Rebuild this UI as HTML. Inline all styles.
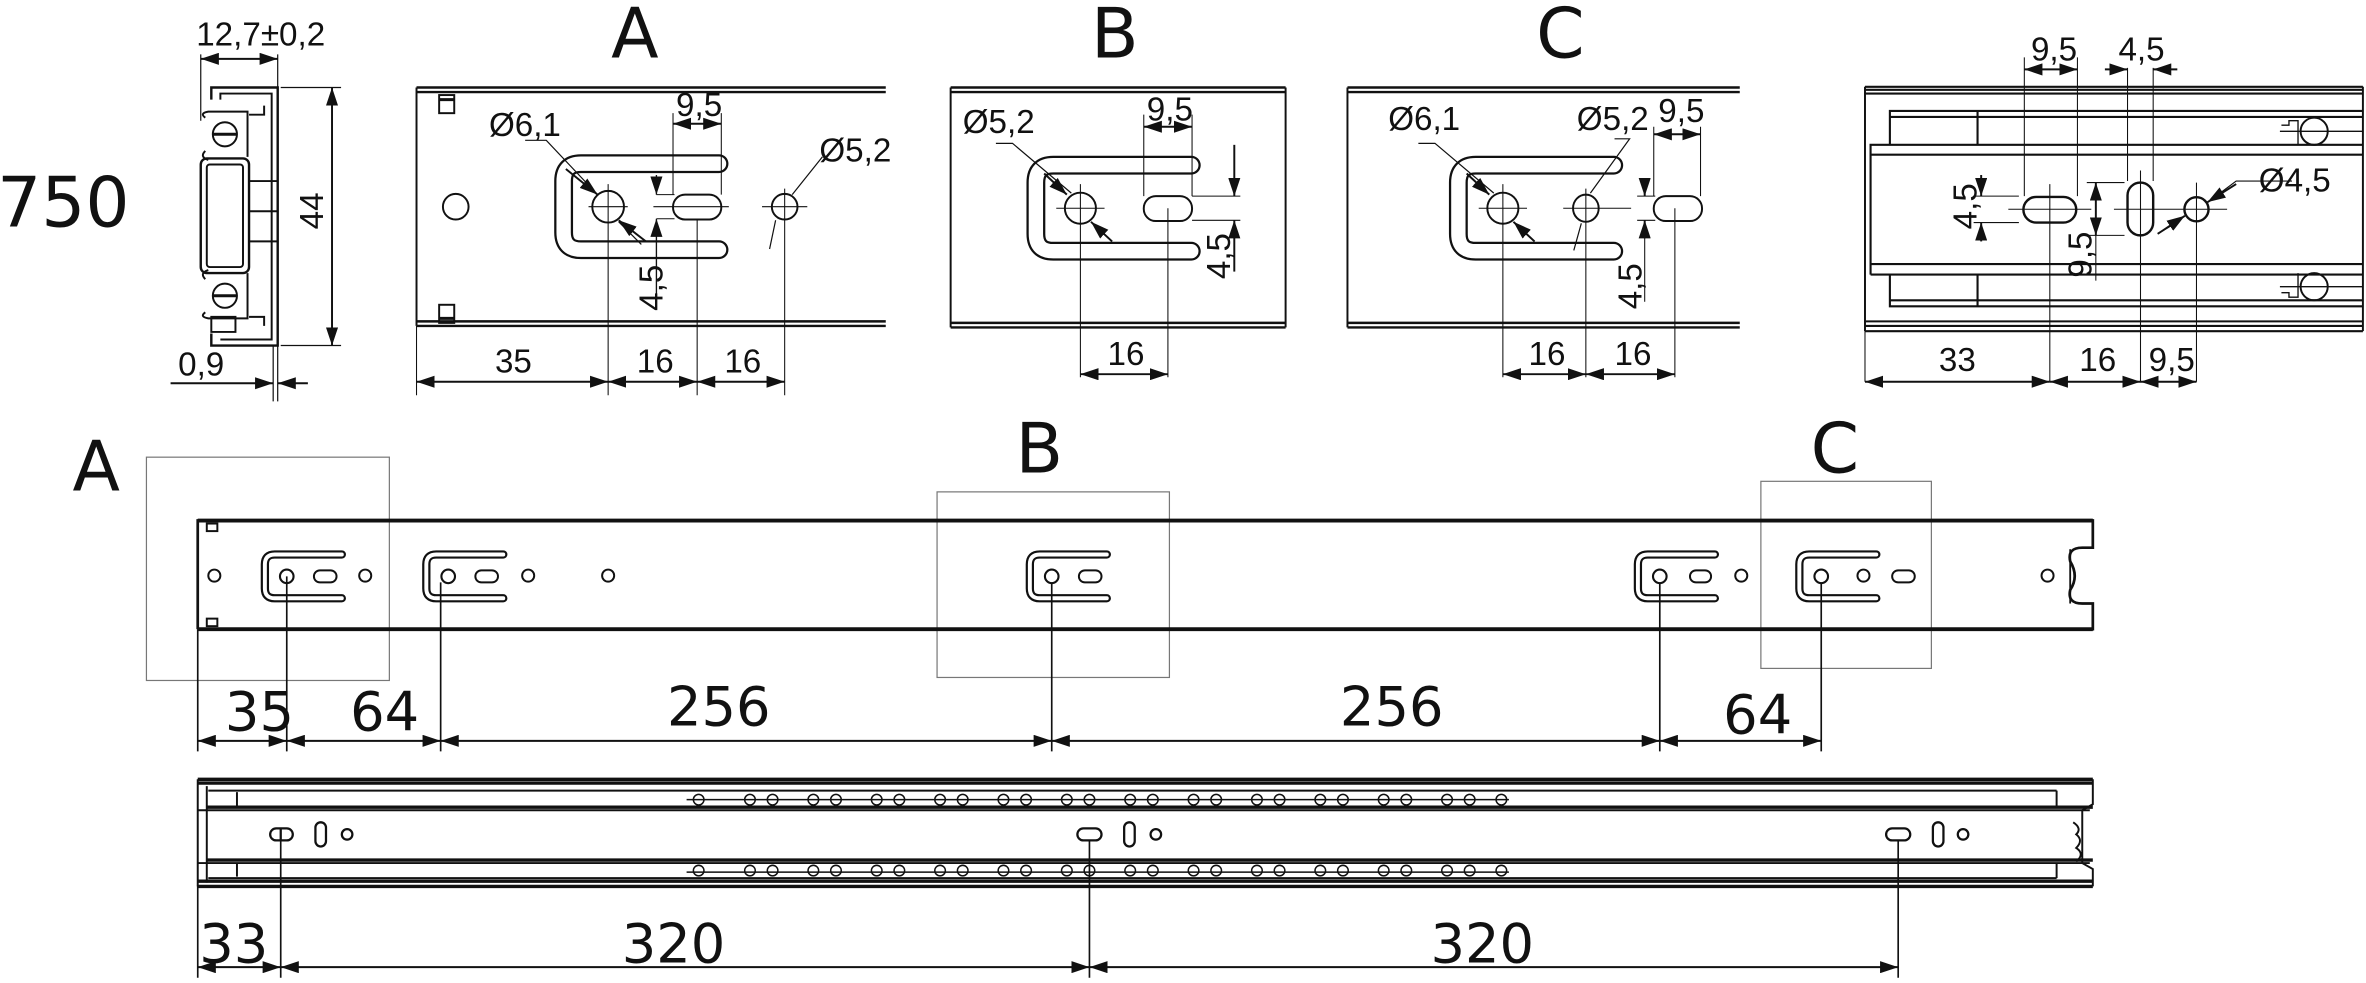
<!DOCTYPE html>
<html><head><meta charset="utf-8"><style>
html,body{margin:0;padding:0;background:#fff;}
svg{display:block;}
text{font-family:"Liberation Sans Narrow","Liberation Sans",sans-serif;fill:#111;}
.big{font-family:"DejaVu Sans","Liberation Sans",sans-serif;font-size:46px;}
.d{font-size:22px;}
.dm{font-size:36px;font-family:"DejaVu Sans","Liberation Sans",sans-serif;}
</style></head><body>
<svg width="2366" height="983" viewBox="0 0 1568 651.5" xmlns="http://www.w3.org/2000/svg">
<defs>
<marker id="a" viewBox="0 0 12 8" refX="12" refY="4" markerWidth="12" markerHeight="8" markerUnits="userSpaceOnUse" orient="auto-start-reverse"><path d="M0,0L12,4L0,8z" fill="#111"/></marker>
<g id="br">
<path d="M36.5,-14.5H-8Q-14.5,-14.5 -14.5,-8V8Q-14.5,14.5 -8,14.5H36.5" fill="none" stroke="#111" stroke-width="5.5" stroke-linecap="round"/>
<path d="M36.5,-14.5H-8Q-14.5,-14.5 -14.5,-8V8Q-14.5,14.5 -8,14.5H36.5" fill="none" stroke="#fff" stroke-width="2.6" stroke-linecap="round"/>
<circle r="4.5" fill="none" stroke="#111" stroke-width="1.4"/>
</g>
<g id="bd">
<path d="M73.5,-28.5H-18Q-29.5,-28.5 -29.5,-17V17Q-29.5,28.5 -18,28.5H73.5" fill="none" stroke="#111" stroke-width="12.5" stroke-linecap="round"/>
<path d="M73.5,-28.5H-18Q-29.5,-28.5 -29.5,-17V17Q-29.5,28.5 -18,28.5H73.5" fill="none" stroke="#fff" stroke-width="9.5" stroke-linecap="round"/>
</g>
</defs>
<g stroke="#111" fill="none" stroke-width="1.3">

<!-- 750 -->
<text class="big" x="-2" y="150" stroke="none" font-size="50">750</text>

<!-- cross-section -->
<path d="M140,66V58H184V229H140V221" stroke-width="1.6"/>
<path d="M146,66V62H180V225H146" />
<rect x="133" y="105" width="32" height="76" rx="4" stroke-width="1.6"/>
<rect x="137" y="109" width="24" height="68" rx="2"/>
<circle cx="149" cy="89" r="8"/><circle cx="149" cy="196" r="8"/>
<path d="M141,89h16M141,196h16" stroke-width="2"/>
<path d="M136,78q-4,-3 2,-4h26v30M136,100q-4,4 2,6M136,185q-4,-4 2,-6M136,207q-4,3 2,4h26v-30"/>
<path d="M140,210h16v10h-16zM165,120h19M165,140h19M165,160h19M165,76h10v-6M165,210h10v6"/>
<line x1="133" y1="39" x2="184" y2="39" marker-start="url(#a)" marker-end="url(#a)"/>
<path d="M133,36V80M184,36V58M186,58H226M186,229H226" stroke-width="0.8"/>
<line x1="220" y1="58" x2="220" y2="229" marker-start="url(#a)" marker-end="url(#a)"/>
<text class="d" x="130" y="30" stroke="none">12,7±0,2</text>
<text class="d" transform="translate(214,152) rotate(-90)" stroke="none">44</text>
<path d="M181,229V266M184,229V266" stroke-width="0.8"/>
<line x1="113" y1="254" x2="181" y2="254" marker-end="url(#a)"/>
<line x1="204" y1="254" x2="184" y2="254" marker-end="url(#a)"/>
<text class="d" x="118" y="249" stroke="none">0,9</text>

<!-- Detail A -->
<text class="big" x="405" y="38" stroke="none">A</text>
<path d="M276,58H587M276,61H587M276,213H587M276,216H587" stroke-width="1.6"/>
<path d="M276,58V216"/>
<rect x="291" y="63" width="10" height="12"/><rect x="291" y="202" width="10" height="12"/>
<path d="M291,66h10M291,211h10" stroke-width="2"/>
<circle cx="302" cy="137" r="8.5"/>
<use href="#bd" x="403" y="137"/>
<circle cx="403" cy="137" r="10.5"/>
<rect x="446" y="129" width="32" height="16.5" rx="8"/>
<circle cx="520" cy="137" r="8.5"/>
<path d="M390,137h26M433,137h50M505,137h30M403,122V262M462,145V262M520,125V262M276,216V262M446,75V129M478,75V129M435,129h12M435,145h12" stroke-width="0.7"/>
<line x1="435" y1="129" x2="435" y2="116" marker-start="url(#a)" stroke-width="0.9"/>
<line x1="435" y1="145" x2="435" y2="205" marker-start="url(#a)" stroke-width="0.9"/>
<line x1="446" y1="82" x2="478" y2="82" marker-start="url(#a)" marker-end="url(#a)"/>
<text class="d" x="448" y="77" stroke="none">9,5</text>
<path d="M348,93H362L395,128M410,147L425,162" stroke-width="0.8"/>
<line x1="375" y1="112" x2="396" y2="129" marker-end="url(#a)"/>
<line x1="428" y1="160" x2="410" y2="146" marker-end="url(#a)"/>
<text class="d" x="324" y="90" stroke="none">Ø6,1</text>
<path d="M545,104L525,129M514,146L510,165" stroke-width="0.8"/>
<text class="d" x="543" y="107" stroke="none">Ø5,2</text>
<text class="d" transform="translate(439,206) rotate(-90)" stroke="none">4,5</text>
<line x1="276" y1="253" x2="403" y2="253" marker-start="url(#a)" marker-end="url(#a)"/>
<line x1="403" y1="253" x2="462" y2="253" marker-start="url(#a)" marker-end="url(#a)"/>
<line x1="462" y1="253" x2="520" y2="253" marker-start="url(#a)" marker-end="url(#a)"/>
<text class="d" x="328" y="247" stroke="none">35</text>
<text class="d" x="422" y="247" stroke="none">16</text>
<text class="d" x="480" y="247" stroke="none">16</text>

<!-- Detail B -->
<text class="big" x="723" y="38" stroke="none">B</text>
<path d="M630,58H852M630,61H852M630,214H852M630,217H852" stroke-width="1.6"/>
<path d="M630,58V217M852,58V217"/>
<use href="#bd" x="716" y="138"/>
<circle cx="716" cy="138" r="10.3"/>
<rect x="758" y="130" width="32" height="16.5" rx="8"/>
<path d="M700,138h32M716,122V250M774,138V250M758,76V130M790,76V130M790,130h32M790,146h32" stroke-width="0.7"/>
<line x1="758" y1="84" x2="790" y2="84" marker-start="url(#a)" marker-end="url(#a)"/>
<text class="d" x="760" y="80" stroke="none">9,5</text>
<line x1="818" y1="96" x2="818" y2="130" marker-end="url(#a)"/>
<line x1="818" y1="180" x2="818" y2="146" marker-end="url(#a)"/>
<text class="d" transform="translate(815,185) rotate(-90)" stroke="none">4,5</text>
<path d="M660,95H671L710,128M724,148L737,160" stroke-width="0.8"/>
<line x1="692" y1="115" x2="707" y2="129" marker-end="url(#a)"/>
<line x1="737" y1="160" x2="723" y2="147" marker-end="url(#a)"/>
<text class="d" x="638" y="88" stroke="none">Ø5,2</text>
<line x1="716" y1="248" x2="774" y2="248" marker-start="url(#a)" marker-end="url(#a)"/>
<text class="d" x="734" y="242" stroke="none">16</text>

<!-- Detail C -->
<text class="big" x="1018" y="38" stroke="none">C</text>
<path d="M893,58H1153M893,61H1153M893,214H1153M893,217H1153" stroke-width="1.6"/>
<path d="M893,58V217"/>
<use href="#bd" x="996" y="138"/>
<circle cx="996" cy="138" r="10.3"/>
<ellipse cx="1051" cy="138" rx="8.5" ry="9"/>
<rect x="1096" y="130" width="32" height="16.5" rx="8"/>
<path d="M980,138h32M1036,138h45M996,122V250M1051,125V250M1110,138V250M1096,84V130M1127,84V130M1085,130h12M1085,146h12" stroke-width="0.7"/>
<line x1="1096" y1="89" x2="1127" y2="89" marker-start="url(#a)" marker-end="url(#a)"/>
<text class="d" x="1099" y="81" stroke="none">9,5</text>
<line x1="1090" y1="118" x2="1090" y2="130" marker-end="url(#a)"/>
<line x1="1090" y1="158" x2="1090" y2="146" marker-end="url(#a)"/>
<path d="M1090,158V200" stroke-width="0.7"/>
<text class="d" transform="translate(1088,205) rotate(-90)" stroke="none">4,5</text>
<path d="M940,95H951L990,128M1004,148L1017,160M1070,92H1080L1054,128M1048,148L1043,166" stroke-width="0.8"/>
<line x1="972" y1="115" x2="987" y2="129" marker-end="url(#a)"/>
<line x1="1017" y1="160" x2="1003" y2="147" marker-end="url(#a)"/>
<text class="d" x="920" y="86" stroke="none">Ø6,1</text>
<text class="d" x="1045" y="86" stroke="none">Ø5,2</text>
<line x1="996" y1="248" x2="1051" y2="248" marker-start="url(#a)" marker-end="url(#a)"/>
<line x1="1051" y1="248" x2="1110" y2="248" marker-start="url(#a)" marker-end="url(#a)"/>
<text class="d" x="1013" y="242" stroke="none">16</text>
<text class="d" x="1070" y="242" stroke="none">16</text>

<!-- Right detail -->
<path d="M1236,57.5H1566M1236,59.5H1566M1236,62H1566M1236,213H1566M1236,216H1566M1236,219.5H1566" stroke-width="1.4"/>
<path d="M1236,57.5V219.5M1566,57.5V219.5"/>
<path d="M1252.5,96V73.5H1566M1252.5,77.5H1566M1252.5,182V203H1566M1252.5,199H1566M1310.6,73.5V96M1310.6,182V203" stroke-width="1.4"/>
<path d="M1239.7,182V96H1566M1239.7,102.5H1566M1239.7,175H1566M1239.7,182H1566" stroke-width="1.4"/>
<circle cx="1533.7" cy="87" r="9"/><circle cx="1533.7" cy="190" r="9"/>
<path d="M1511,87h55M1511,190h55M1512,83h5v-3h6v16M1512,194h5v3h6v-16" stroke-width="0.9"/>
<rect x="1341" y="130.5" width="35" height="17" rx="8.5" stroke-width="1.6"/>
<rect x="1410" y="121" width="17" height="35" rx="8.5" stroke-width="1.6"/>
<circle cx="1455.7" cy="138.7" r="8" stroke-width="1.6"/>
<path d="M1331,138.7h55M1401,138.7h38M1436,138.7h40M1358.5,122V253M1418.6,113V253M1455.7,121V253M1341.6,38V130M1376.8,38V130M1410,45V120M1427,45V120M1308,130h30M1308,147.5h30M1383,121h25M1383,156h25M1236,219.5V253" stroke-width="0.7"/>
<line x1="1341.6" y1="46" x2="1376.8" y2="46" marker-start="url(#a)" marker-end="url(#a)"/>
<line x1="1395" y1="46" x2="1410" y2="46" marker-end="url(#a)"/>
<line x1="1443" y1="46" x2="1427" y2="46" marker-end="url(#a)"/>
<text class="d" x="1346" y="40" stroke="none">9,5</text>
<text class="d" x="1404" y="40" stroke="none">4,5</text>
<line x1="1313" y1="116" x2="1313" y2="130" marker-end="url(#a)"/>
<line x1="1313" y1="160" x2="1313" y2="147.5" marker-end="url(#a)"/>
<line x1="1389" y1="121" x2="1389" y2="156" marker-start="url(#a)" marker-end="url(#a)"/>
<path d="M1389,156V186" stroke-width="0.7"/>
<text class="d" transform="translate(1310,152) rotate(-90)" stroke="none">4,5</text>
<text class="d" transform="translate(1386,184) rotate(-90)" stroke="none">9,5</text>
<path d="M1519,120H1482L1466,132M1445,146L1430,155" stroke-width="0.8"/>
<line x1="1482" y1="122" x2="1463" y2="134" marker-end="url(#a)"/>
<line x1="1430" y1="155" x2="1448" y2="143" marker-end="url(#a)"/>
<text class="d" x="1497" y="127" stroke="none">Ø4,5</text>
<line x1="1236" y1="253" x2="1358.5" y2="253" marker-start="url(#a)" marker-end="url(#a)"/>
<line x1="1358.5" y1="253" x2="1418.6" y2="253" marker-start="url(#a)" marker-end="url(#a)"/>
<line x1="1418.6" y1="253" x2="1455.7" y2="253" marker-start="url(#a)" marker-end="url(#a)"/>
<text class="d" x="1285" y="246" stroke="none">33</text>
<text class="d" x="1378" y="246" stroke="none">16</text>
<text class="d" x="1424" y="246" stroke="none">9,5</text>

<!-- Middle rail -->
<rect x="97" y="303" width="161" height="148" stroke="#777" stroke-width="0.8"/>
<rect x="621" y="326" width="154" height="123" stroke="#777" stroke-width="0.8"/>
<rect x="1167" y="319" width="113" height="124" stroke="#777" stroke-width="0.8"/>
<text class="big" x="48" y="325" stroke="none">A</text>
<text class="big" x="673" y="313" stroke="none">B</text>
<text class="big" x="1200" y="313" stroke="none">C</text>
<path d="M131,417V345H1387V363H1380Q1370,363 1372,372Q1378,382 1372,391Q1370,400 1380,400H1387V417H131" stroke-width="1.8"/>
<path d="M131,345H1387M131,417H1387" stroke-width="2.6"/>
<path d="M1372,364V400" stroke-width="1.2"/>
<rect x="137" y="347" width="7" height="5"/><rect x="137" y="410" width="7" height="5"/>
<circle cx="142" cy="381.5" r="4"/>
<use href="#br" x="190" y="382"/><rect x="208" y="378" width="15" height="8" rx="4"/><circle cx="242" cy="381.5" r="4"/>
<use href="#br" x="297" y="382"/><rect x="315" y="378" width="15" height="8" rx="4"/><circle cx="350" cy="381.5" r="4"/>
<circle cx="403" cy="381.5" r="4"/>
<use href="#br" x="697" y="382"/><rect x="715" y="378" width="15" height="8" rx="4"/>
<use href="#br" x="1100" y="382"/><rect x="1120" y="378" width="14" height="8" rx="4"/><circle cx="1154" cy="381.5" r="4"/>
<use href="#br" x="1207" y="382"/><circle cx="1235" cy="381.5" r="4"/><rect x="1254" y="378" width="15" height="8" rx="4"/>
<circle cx="1357" cy="381.5" r="4"/>
<path d="M131,417V498M190,382V498M292,386V498M697,386V498M1100,386V498M1207,386V498" stroke-width="1.1"/>
<line x1="131" y1="491" x2="190" y2="491" marker-start="url(#a)" marker-end="url(#a)"/>
<line x1="190" y1="491" x2="292" y2="491" marker-start="url(#a)" marker-end="url(#a)"/>
<line x1="292" y1="491" x2="697" y2="491" marker-start="url(#a)" marker-end="url(#a)"/>
<line x1="697" y1="491" x2="1100" y2="491" marker-start="url(#a)" marker-end="url(#a)"/>
<line x1="1100" y1="491" x2="1207" y2="491" marker-start="url(#a)" marker-end="url(#a)"/>
<text class="dm" x="149" y="484" stroke="none">35</text>
<text class="dm" x="232" y="484" stroke="none">64</text>
<text class="dm" x="442" y="481" stroke="none">256</text>
<text class="dm" x="888" y="481" stroke="none">256</text>
<text class="dm" x="1142" y="486" stroke="none">64</text>

<!-- Bottom rail -->
<path d="M131,516.5H1387M131,519H1387M137,535H1387M137,570H1387M131,584H1387M131,587.5H1387" stroke-width="2.2"/>
<path d="M138,524H1363M138,582H1363M131,537H1385M131,572H1385M1363,524V534M1363,572V582" stroke-width="1.3"/>
<path d="M131,516.5V587.5M137,521V585M157,525V534M157,572V581M1387,516.5V533L1380,537V572L1387,576V587.5M1374,545q6,4 2,8q5,4 0,9q6,4 0,9" stroke-width="1.3"/>
<g stroke-width="1">
<path d="M455,530H1000M455,578H1000"/>
<circle cx="463" cy="530" r="3.5"/><circle cx="463" cy="577" r="3.5"/>
<circle cx="497" cy="530" r="3.5"/><circle cx="512" cy="530" r="3.5"/><circle cx="497" cy="577" r="3.5"/><circle cx="512" cy="577" r="3.5"/>
<circle cx="539" cy="530" r="3.5"/><circle cx="554" cy="530" r="3.5"/><circle cx="539" cy="577" r="3.5"/><circle cx="554" cy="577" r="3.5"/>
<circle cx="581" cy="530" r="3.5"/><circle cx="596" cy="530" r="3.5"/><circle cx="581" cy="577" r="3.5"/><circle cx="596" cy="577" r="3.5"/>
<circle cx="623" cy="530" r="3.5"/><circle cx="638" cy="530" r="3.5"/><circle cx="623" cy="577" r="3.5"/><circle cx="638" cy="577" r="3.5"/>
<circle cx="665" cy="530" r="3.5"/><circle cx="680" cy="530" r="3.5"/><circle cx="665" cy="577" r="3.5"/><circle cx="680" cy="577" r="3.5"/>
<circle cx="707" cy="530" r="3.5"/><circle cx="722" cy="530" r="3.5"/><circle cx="707" cy="577" r="3.5"/><circle cx="722" cy="577" r="3.5"/>
<circle cx="749" cy="530" r="3.5"/><circle cx="764" cy="530" r="3.5"/><circle cx="749" cy="577" r="3.5"/><circle cx="764" cy="577" r="3.5"/>
<circle cx="791" cy="530" r="3.5"/><circle cx="806" cy="530" r="3.5"/><circle cx="791" cy="577" r="3.5"/><circle cx="806" cy="577" r="3.5"/>
<circle cx="833" cy="530" r="3.5"/><circle cx="848" cy="530" r="3.5"/><circle cx="833" cy="577" r="3.5"/><circle cx="848" cy="577" r="3.5"/>
<circle cx="875" cy="530" r="3.5"/><circle cx="890" cy="530" r="3.5"/><circle cx="875" cy="577" r="3.5"/><circle cx="890" cy="577" r="3.5"/>
<circle cx="917" cy="530" r="3.5"/><circle cx="932" cy="530" r="3.5"/><circle cx="917" cy="577" r="3.5"/><circle cx="932" cy="577" r="3.5"/>
<circle cx="959" cy="530" r="3.5"/><circle cx="974" cy="530" r="3.5"/><circle cx="959" cy="577" r="3.5"/><circle cx="974" cy="577" r="3.5"/>
<circle cx="995" cy="530" r="3.5"/><circle cx="995" cy="577" r="3.5"/>
</g>
<g stroke-width="1.5">
<rect x="179" y="549" width="15" height="8" rx="4"/><path d="M186,549v8"/><rect x="209" y="545" width="7" height="16" rx="3.5"/><circle cx="230" cy="553" r="3.5"/>
<rect x="714" y="549" width="16" height="8" rx="4"/><rect x="745" y="545" width="7" height="16" rx="3.5"/><circle cx="766" cy="553" r="3.5"/>
<rect x="1250" y="549" width="16" height="8" rx="4"/><rect x="1281" y="545" width="7" height="16" rx="3.5"/><circle cx="1301" cy="553" r="3.5"/>
</g>
<path d="M131,587V648M186,557V648M722,557V648M1258,557V648" stroke-width="1.1"/>
<line x1="131" y1="641" x2="186" y2="641" marker-start="url(#a)" marker-end="url(#a)"/>
<line x1="186" y1="641" x2="722" y2="641" marker-start="url(#a)" marker-end="url(#a)"/>
<line x1="722" y1="641" x2="1258" y2="641" marker-start="url(#a)" marker-end="url(#a)"/>
<text class="dm" x="132" y="638" stroke="none">33</text>
<text class="dm" x="412" y="638" stroke="none">320</text>
<text class="dm" x="948" y="638" stroke="none">320</text>
</g>
</svg>
</body></html>
